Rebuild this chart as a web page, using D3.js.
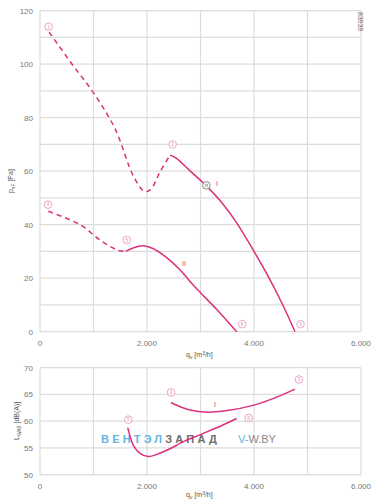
<!DOCTYPE html>
<html>
<head>
<meta charset="utf-8">
<script src="https://cdn.jsdelivr.net/npm/d3@7"></script>
<style>
  body { margin: 0; background: #fff; }
  text { font-family: "Liberation Sans", Arial, sans-serif; }
</style>
</head>
<body>
<script>
'use strict';

// data ============================================
var xTicks = [0, 2000, 4000, 6000];
var xTickLabels = ['0', '2.000', '4.000', '6.000'];
var pTicks = [0, 20, 40, 60, 80, 100, 120];
var lTicks = [50, 55, 60, 65, 70];

// curve I, pressure
var p1Dashed = [[170, 112], [600, 100], [1000, 89.3], [1400, 76], [1750, 58], [1950, 52.5], [2060, 53], [2250, 60], [2430, 66]];
var p1Solid = [[2430, 66], [2550, 64.8], [2800, 60.2], [3100, 54.7], [3400, 48.2], [3680, 40.6], [4000, 30], [4300, 19.4], [4550, 9.5], [4766, 0]];
// curve II, pressure
var p2Dashed = [[155, 45], [750, 40], [1120, 34.3], [1450, 30.5], [1600, 30]];
var p2Solid = [[1600, 30], [1750, 31.4], [1930, 32.1], [2100, 31.2], [2350, 28], [2620, 23.1], [2800, 18.9], [3000, 14.6], [3300, 8.4], [3676, 0]];
// sound level
var l1Solid = [[2449, 63.5], [2620, 62.7], [2800, 62.1], [3100, 61.7], [3500, 62.0], [4000, 63.0], [4400, 64.4], [4766, 66.0]];
var l2Solid = [[1640, 58.8], [1745, 55.5], [1870, 54.0], [2024, 53.4], [2240, 54.0], [2555, 55.5], [2620, 55.9], [3000, 57.5], [3400, 59.2], [3676, 60.5]];

// operating point markers [q, value, label]
var pMarks = [[160, 114, '1'], [2480, 70, '2'], [4870, 2.8, '3'], [150, 47.5, '4'], [1620, 34.3, '5'], [3780, 2.8, '6']];
var lMarks = [[2450, 65.4, '2'], [4840, 67.8, '3'], [1650, 60.3, '5'], [3900, 60.6, '6']];

var pink = '#dc2f7d';
var lightPink = '#e98cba';
var gridColor = '#dcdcdc';
var tickColor = '#777';

var width = 377, height = 504;

var svg = d3.select('body').append('svg')
    .attr('width', width)
    .attr('height', height);

var x = d3.scaleLinear().domain([0, 6000]).range([40, 361]);
var yP = d3.scaleLinear().domain([0, 120]).range([331.7, 10.7]);
var yL = d3.scaleLinear().domain([50, 70]).range([474.7, 367.7]);

var line = function (ys) {
  return d3.line().x(function (d) { return x(d[0]); }).y(function (d) { return ys(d[1]); }).curve(d3.curveCatmullRom.alpha(0.5));
};

// draw one panel (grid + ticks)
function drawGrid(ys, yMinor, yLabels) {
  var g = svg.append('g');
  g.selectAll('line.v').data(d3.range(0, 6001, 1000)).enter().append('line')
    .attr('x1', function (d) { return x(d); }).attr('x2', function (d) { return x(d); })
    .attr('y1', ys.range()[0]).attr('y2', ys.range()[1])
    .attr('stroke', gridColor).attr('stroke-width', 1.2);
  g.selectAll('line.h').data(yMinor).enter().append('line')
    .attr('x1', x(0)).attr('x2', x(6000))
    .attr('y1', function (d) { return ys(d); }).attr('y2', function (d) { return ys(d); })
    .attr('stroke', gridColor).attr('stroke-width', 1.2);

  g.selectAll('text.y').data(yLabels).enter().append('text')
    .attr('x', x(0) - 7).attr('y', function (d) { return ys(d) + 3; })
    .attr('text-anchor', 'end')
    .style('font-size', '8px').attr('fill', tickColor)
    .text(function (d) { return d; });

  g.selectAll('text.x').data(xTicks).enter().append('text')
    .attr('x', function (d) { return x(d); }).attr('y', ys.range()[0] + 14)
    .attr('text-anchor', 'middle')
    .style('font-size', '8px').attr('fill', tickColor)
    .text(function (d, i) { return xTickLabels[i]; });
  return g;
}

drawGrid(yP, d3.range(0, 121, 10), pTicks);
drawGrid(yL, lTicks, lTicks);

// axis titles
function qLabel(yPos) {
  var t = svg.append('text').attr('x', 186).attr('y', yPos)
    .style('font-size', '7px').attr('fill', '#555');
  t.append('tspan').text('q');
  t.append('tspan').attr('dy', 2).style('font-size', '5px').text('v');
  t.append('tspan').attr('dy', -2).text(' [m');
  t.append('tspan').attr('dy', -2.5).style('font-size', '5px').text('3');
  t.append('tspan').attr('dy', 2.5).text('/h]');
}
qLabel(357);
qLabel(497);

var pl = svg.append('text').attr('transform', 'translate(13,193) rotate(-90)')
  .style('font-size', '7px').attr('fill', '#555');
pl.append('tspan').text('p');
pl.append('tspan').attr('dy', 2).style('font-size', '5px').text('sF');
pl.append('tspan').attr('dy', -2).text(' [Pa]');

var ll = svg.append('text').attr('transform', 'translate(19,440) rotate(-90)')
  .style('font-size', '7px').attr('fill', '#555');
ll.append('tspan').text('L');
ll.append('tspan').attr('dy', 2).style('font-size', '5px').text('WA5');
ll.append('tspan').attr('dy', -2).text(' [dB(A)]');

svg.append('text').attr('transform', 'translate(358,12) rotate(90)')
  .style('font-size', '7px').attr('fill', '#666').text('83939');

// watermark
var wm = svg.append('text').attr('x', 101).attr('y', 443)
  .style('font-size', '11px').style('font-weight', 'bold').style('letter-spacing', '3.2px');
wm.append('tspan').attr('fill', '#62b6e6').text('ВЕНТЭЛ');
wm.append('tspan').attr('fill', '#6d6d6d').text('ЗАПАД');
var wm2 = svg.append('text').attr('x', 238).attr('y', 443).style('font-size', '11px');
wm2.append('tspan').attr('fill', '#62b6e6').text('V-');
wm2.append('tspan').attr('fill', '#8a8a8a').text('W.BY');

// curves
function curve(data, ys, dashed) {
  svg.append('path').datum(data)
    .attr('d', line(ys))
    .attr('fill', 'none')
    .attr('stroke', pink)
    .attr('stroke-width', 1.5)
    .attr('stroke-dasharray', dashed ? '5,4' : null);
}
curve(p1Dashed, yP, true);
curve(p1Solid, yP, false);
curve(p2Dashed, yP, true);
curve(p2Solid, yP, false);
curve(l1Solid, yL, false);
curve(l2Solid, yL, false);

// circled markers
function marks(data, ys) {
  var g = svg.append('g').selectAll('g').data(data).enter().append('g')
    .attr('transform', function (d) { return 'translate(' + x(d[0]) + ',' + ys(d[1]) + ')'; });
  g.append('circle').attr('r', 3.8).attr('fill', '#fff').attr('stroke', lightPink).attr('stroke-width', 0.8);
  g.append('text').attr('y', 1.8).attr('text-anchor', 'middle')
    .style('font-size', '5px').attr('fill', lightPink).text(function (d) { return d[2]; });
}
marks(pMarks, yP);
marks(lMarks, yL);

// "n" marker on curve I
var nm = svg.append('g').attr('transform', 'translate(' + x(3110) + ',' + yP(54.7) + ')');
nm.append('circle').attr('r', 3.8).attr('fill', '#fff').attr('stroke', '#666').attr('stroke-width', 0.8);
nm.append('text').attr('y', 2).attr('text-anchor', 'middle').style('font-size', '6px').attr('fill', '#555').text('n');

// curve names
svg.append('text').attr('x', 216).attr('y', 186).style('font-size', '7px').attr('fill', pink).text('I');
svg.append('text').attr('x', 182).attr('y', 266).style('font-size', '7px').attr('fill', pink).text('II');
svg.append('text').attr('x', 214).attr('y', 407).style('font-size', '7px').attr('fill', pink).text('I');
</script>
</body>
</html>
